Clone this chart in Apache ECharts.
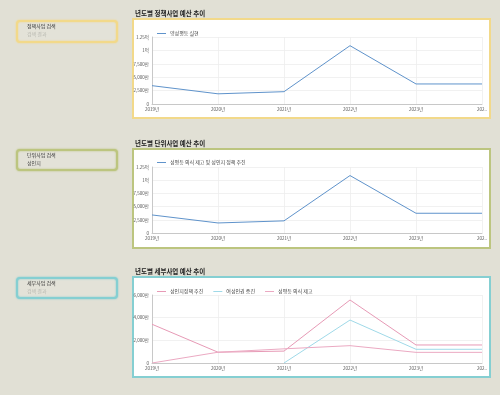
<!DOCTYPE html>
<html>
<head>
<meta charset="utf-8">
<script src="https://cdn.jsdelivr.net/npm/echarts@6/dist/echarts.min.js"></script>
<style>
html,body{margin:0;padding:0;background:#e1e0d5;}
#c{width:500px;height:395px;}
</style>
</head>
<body>
<div id="c"></div>
<script>
// ---- data (values in 만원) ----
const years = ['2019년','2020년','2021년','2022년','2023년','2024년'];
const policyName = '양성평등 실현';
const policyValues = [3420, 1900, 2300, 10880, 3740, 3740];
const unitName = '성평등 의식 제고 및 성인지 정책 추진';
const unitValues = [3420, 1900, 2300, 10880, 3740, 3740];
const detailNames = ['성인지정책 추진', '여성인권 증진', '성평등 의식 제고'];
const detailA = [3420, 950, 1050, 5560, 1590, 1590];
const detailB = [null, null, 0, 3790, 1210, 1210];
const detailC = [0, 950, 1250, 1530, 940, 940];
const titles = ['년도별 정책사업 예산 추이', '년도별 단위사업 예산 추이', '년도별 세부사업 예산 추이'];
const searchLabels = ['정책사업 검색', '단위사업 검색', '세부사업 검색'];
const searchValues = ['검색 결과', '성인지', '검색 결과'];
const searchIsPlaceholder = [true, false, true];
const yTicks12 = {0:'0', 2500:'2,500만', 5000:'5,000만', 7500:'7,500만', 10000:'1억', 12500:'1.25억'};
const yTicks3 = {0:'0', 2000:'2,000만', 4000:'4,000만', 6000:'6,000만'};

const font = 'Noto Sans CJK KR, sans-serif';
const borderColors = ['#f2d98a', '#bcc57f', '#85cfd2'];
const panelTops = [19, 149, 277];
const panelBottoms = [118, 248, 377];
const boxTops = [21, 150, 278];
const boxBottoms = [42, 170, 298];
const grids = [
  {left:152, right:18, top:37, height:67},
  {left:152, right:18, top:167, height:66},
  {left:152, right:18, top:295, height:68}
];
const legendTops = [26, 155, 284];

const graphic = [];
for (let i = 0; i < 3; i++) {
  graphic.push({type:'rect', z:-10, shape:{x:17, y:boxTops[i], width:100, height:boxBottoms[i]-boxTops[i], r:3},
    style:{fill:'#e3e2d8', stroke:borderColors[i], lineWidth:2, shadowBlur:2, shadowColor:borderColors[i]}});
  graphic.push({type:'text', z:-9, left:27, top:boxTops[i]+2.5, style:{text:searchLabels[i], font:'5px '+font, fill:'#333'}});
  graphic.push({type:'text', z:-9, left:27, top:boxTops[i]+10.5, style:{text:searchValues[i], font:'5px '+font, fill:searchIsPlaceholder[i] ? '#b8b8b0' : '#444'}});
  graphic.push({type:'rect', z:-10, shape:{x:133, y:panelTops[i], width:357, height:panelBottoms[i]-panelTops[i]},
    style:{fill:'#ffffff', stroke:borderColors[i], lineWidth:2}});
  graphic.push({type:'text', z:-9, left:135, top:panelTops[i]-9, style:{text:titles[i], font:'bold 6.5px '+font, fill:'#222'}});
}

function xAxis(idx) {
  return {
    type:'category', gridIndex:idx, data:years, boundaryGap:false,
    axisLine:{lineStyle:{color:'#c8c8c8', width:1}},
    axisTick:{show:false},
    splitLine:{show:true, lineStyle:{color:'#eeeeee', width:0.8}},
    axisLabel:{fontSize:4.5, color:'#555', fontFamily:font, margin:3, interval:0,
      formatter:(v, i) => i === years.length - 1 ? v.slice(0,3) + '..' : v}
  };
}
function yAxis(idx, max, interval, ticks) {
  return {
    type:'value', gridIndex:idx, min:0, max:max, interval:interval,
    axisLine:{show:true, lineStyle:{color:'#c8c8c8', width:1}},
    axisTick:{show:false},
    splitLine:{show:true, lineStyle:{color:'#eeeeee', width:0.8}},
    axisLabel:{fontSize:4.5, color:'#555', fontFamily:font, margin:3,
      formatter:v => ticks[v] !== undefined ? ticks[v] : ''}
  };
}
function legend(idx, names) {
  return {
    left:152, top:legendTops[idx], icon:'rect', itemWidth:9, itemHeight:1, itemGap:10,
    textStyle:{fontSize:5, color:'#444', fontFamily:font, padding:[0,0,0,-1]},
    data:names, selectedMode:false
  };
}
function line(name, data, color, idx) {
  return {type:'line', name:name, data:data, xAxisIndex:idx, yAxisIndex:idx,
    showSymbol:false, symbol:'none', lineStyle:{color:color, width:1}, itemStyle:{color:color},
    connectNulls:false, animation:false};
}

const chart = echarts.init(document.getElementById('c'), null, {renderer:'canvas'});
chart.setOption({
  backgroundColor:'#e1e0d5',
  animation:false,
  graphic:graphic,
  grid:grids,
  legend:[legend(0,[policyName]), legend(1,[unitName]), legend(2, detailNames)],
  xAxis:[xAxis(0), xAxis(1), xAxis(2)],
  yAxis:[yAxis(0,12500,2500,yTicks12), yAxis(1,12500,2500,yTicks12), yAxis(2,6000,2000,yTicks3)],
  series:[
    line(policyName, policyValues, '#5f93cb', 0),
    line(unitName, unitValues, '#5f93cb', 1),
    line(detailNames[0], detailA, '#e79ab6', 2),
    line(detailNames[1], detailB, '#9fd9e8', 2),
    line(detailNames[2], detailC, '#eba9c2', 2)
  ]
});
</script>
</body>
</html>
